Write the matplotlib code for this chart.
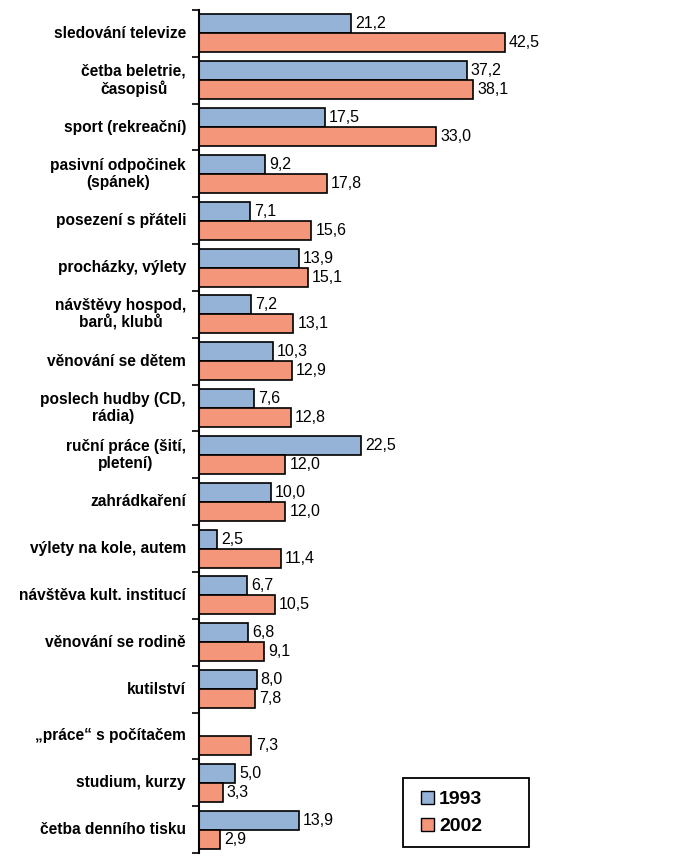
import numpy as np
import matplotlib.pyplot as plt
from matplotlib.patches import Patch, Rectangle

plt.rcParams['font.family'] = ['Liberation Sans', 'DejaVu Sans']

categories = [
    "sledování televize",
    "četba beletrie,\nčasopisů",
    "sport (rekreační)",
    "pasivní odpočinek\n(spánek)",
    "posezení s přáteli",
    "procházky, výlety",
    "návštěvy hospod,\nbarů, klubů",
    "věnování se dětem",
    "poslech hudby (CD,\nrádia)",
    "ruční práce (šití,\npletení)",
    "zahrádkaření",
    "výlety na kole, autem",
    "návštěva kult. institucí",
    "věnování se rodině",
    "kutilství",
    "„práce“ s počítačem",
    "studium, kurzy",
    "četba denního tisku",
]
val_1993 = [21.2, 37.2, 17.5, 9.2, 7.1, 13.9, 7.2, 10.3, 7.6, 22.5,
            10.0, 2.5, 6.7, 6.8, 8.0, None, 5.0, 13.9]
val_2002 = [42.5, 38.1, 33.0, 17.8, 15.6, 15.1, 13.1, 12.9, 12.8, 12.0,
            12.0, 11.4, 10.5, 9.1, 7.8, 7.3, 3.3, 2.9]
years = ["1993", "2002"]

blue = "#95b3d7"
red = "#f4967a"

fig = plt.figure(figsize=(6.85, 8.66), dpi=100)
ax = fig.add_axes([0.2905, 0.015, 0.63, 0.9735])

y = np.arange(len(categories))
h = 0.406


def fmt(v):
    return f"{v:.1f}".replace(".", ",")


for i, (a, b) in enumerate(zip(val_1993, val_2002)):
    if a is not None:
        ax.barh(y[i] - h / 2, a, height=h, color=blue, edgecolor="black", linewidth=1.2)
        ax.annotate(fmt(a), (a, y[i] - h / 2), xytext=(3, 0), textcoords="offset points",
                    va="center", ha="left", fontsize=11.5)
    ax.barh(y[i] + h / 2, b, height=h, color=red, edgecolor="black", linewidth=1.2)
    ax.annotate(fmt(b), (b, y[i] + h / 2), xytext=(3, 0), textcoords="offset points",
                va="center", ha="left", fontsize=11.5)

ax.set_xlim(0, 60)
ax.set_ylim(len(categories) - 0.5, -0.5)

for s in ["top", "right", "bottom"]:
    ax.spines[s].set_visible(False)
ax.spines["left"].set_linewidth(1.5)
ax.set_xticks([])

ax.set_yticks(np.arange(len(categories) + 1) - 0.5)
ax.set_yticklabels([])
ax.tick_params(axis="y", length=5, width=1.2, direction="out")

for i, c in enumerate(categories):
    ax.text(-1.8, y[i], c, ha="right", va="center", multialignment="center",
            fontsize=11.2, fontweight="bold", linespacing=1.15)

# legend box drawn separately, entries placed inside it
fig.patches.append(Rectangle((403 / 685, 1 - 847 / 866), 126 / 685, 69 / 866,
                             transform=fig.transFigure, facecolor="white",
                             edgecolor="black", linewidth=1.3))
handles = [Patch(facecolor=blue, edgecolor="black"), Patch(facecolor=red, edgecolor="black")]
fig.legend(handles, years, loc="center left", bbox_to_anchor=(421 / 685, 1 - 813 / 866),
           frameon=False, handlelength=0.68, handleheight=0.68, handletextpad=0.25,
           borderpad=0, borderaxespad=0, labelspacing=0.5,
           prop={"weight": "bold", "size": 14})

fig.savefig("out.png", dpi=100)
